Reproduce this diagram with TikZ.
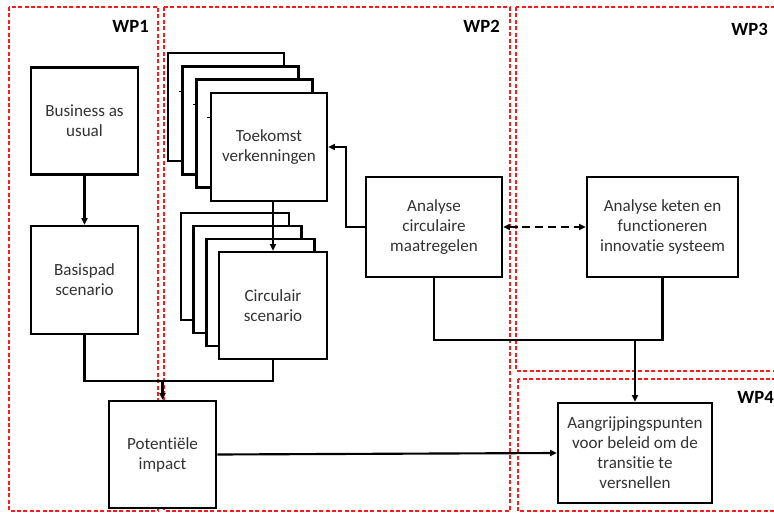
\documentclass[tikz,border=0pt]{standalone}
\usepackage{fontspec}
\setmainfont{Carlito}[RawFeature={-liga}]
\usetikzlibrary{arrows.meta,calc}
\begin{document}
\begin{tikzpicture}[x=0.75pt,y=-0.75pt,
  wpbox/.style={draw=red!90, line width=0.85pt, dash pattern=on 3pt off 1.8pt},
  wplabel/.style={anchor=east, inner sep=0, font=\fontsize{14}{16}\selectfont\bfseries},
  box/.style={draw, line width=1.9pt, fill=white, inner sep=0, align=center, text=black!80,
    font=\fontsize{12.8}{15}\selectfont},
  conn/.style={line width=1.6pt},
  arr/.style={conn, -{Triangle[length=5pt,width=4.5pt]}},
  tick/.style={line width=0.6pt}
]
\useasboundingbox (0,0) rectangle (774,513);
\begin{scope}
\clip (0,0) rectangle (774,513);
% work package frames
\draw[wpbox] (9,7) rectangle (158,511);
\draw[wpbox] (164,7) rectangle (510,511);
\draw[wpbox] (516,7) rectangle (800,371);
\draw[wpbox] (518,379) rectangle (800,511);
\node[wplabel] (wp1) at (149,26) {WP1};
\node[wplabel] (wp2) at (500,26) {WP2};
\node[wplabel] (wp3) at (768,29) {WP3};
\node[wplabel] (wp4) at (774,397) {WP4};

% WP1
\node[box, minimum width=80.25pt, minimum height=80.25pt] (bau) at (84.5,121) {Business as\\usual};
\node[box, minimum width=80.25pt, minimum height=81pt] (bas) at (84.5,280) {Basispad\\scenario};

% Toekomst stack
\node[box, minimum width=87pt, minimum height=81pt] (t1) at (226.1,107.1) {};
\node[box, minimum width=87pt, minimum height=81pt] (t2) at (240.4,120.4) {};
\node[box, minimum width=87pt, minimum height=81pt] (t3) at (254.7,133.7) {};
\node[box, minimum width=87pt, minimum height=81pt] (toek) at (269,147) {Toekomst\\verkenningen};
\draw[tick] ($(t2.north west)+(-2.5,26)$) -- ++(4,0);
\draw[tick] ($(t3.north west)+(-2.5,26)$) -- ++(4,0);
\draw[tick] ($(toek.north west)+(-2.5,26)$) -- ++(4,0);

% Circulair stack
\node[box, minimum width=81pt, minimum height=80.25pt] (c1) at (234.9,266.5) {};
\node[box, minimum width=81pt, minimum height=80.25pt] (c2) at (247.6,279.5) {};
\node[box, minimum width=81pt, minimum height=80.25pt] (c3) at (260.3,292.5) {};
\node[box, minimum width=81pt, minimum height=80.25pt] (circ) at (273,305.5) {Circulair\\scenario};

% Analyse boxes
\node[box, minimum width=102pt, minimum height=75pt] (acm) at (434,227) {Analyse\\circulaire\\maatregelen};
\node[box, minimum width=113.25pt, minimum height=75pt] (ake) at (662.5,227) {Analyse keten en\\functioneren\\innovatie systeem};

% bottom boxes
\node[box, minimum width=80.25pt, minimum height=80.25pt] (pot) at (162.5,454.5) {Potentiële\\impact};
\node[box, minimum width=115.5pt, minimum height=75pt] (aang) at (635,453) {Aangrijpingspunten\\voor beleid om de\\transitie te\\versnellen};

\coordinate (m1) at (162.5,381);
\coordinate (m2) at (635,340);

% connectors
\draw[arr] (bau.south) -- (bas.north);
\draw[arr] (toek.south -| circ.north) -- (circ.north);
\draw[conn] (bas.south) |- (m1);
\draw[conn] (circ.south) |- (m1);
\draw[arr] (m1) -- (pot.north);
\draw[arr] (acm.west) -- ++(-19,0) |- (toek.east);
\draw[line width=1.6pt, dash pattern=on 6pt off 3.6pt,
  {Triangle[length=5pt,width=4.5pt]}-{Triangle[length=5pt,width=4.5pt]}] (acm.east) -- (ake.west);
\draw[conn] (acm.south) |- (m2);
\draw[conn] (ake.south) |- (m2);
\draw[arr] (m2) -- (aang.north);
\draw[arr] (pot.east) -- (aang.west);
\end{scope}
\end{tikzpicture}
\end{document}
